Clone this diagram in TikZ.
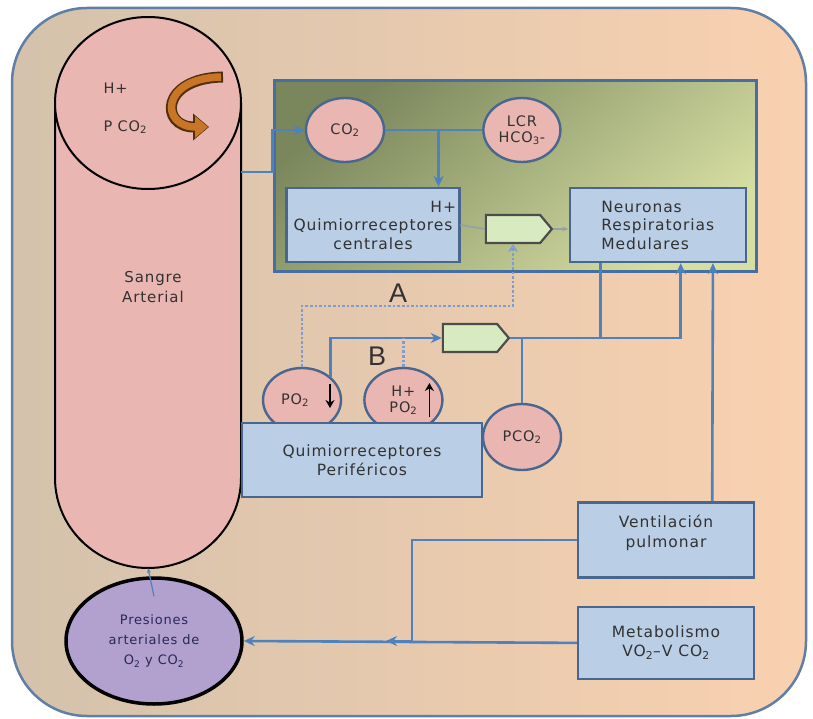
\documentclass[tikz,border=0pt]{standalone}
\usepackage{fontspec}
\setmainfont[LetterSpace=6]{DejaVu Sans}
\newfontfamily\letrasAB{Liberation Sans}
\usetikzlibrary{arrows.meta, positioning, calc, shapes.geometric, shapes.symbols}
\definecolor{fondoizq}{RGB}{212,194,172}
\definecolor{fondoder}{RGB}{249,209,176}
\definecolor{marco}{RGB}{96,126,166}
\definecolor{rosa}{RGB}{233,182,178}
\definecolor{bordecaja}{RGB}{72,102,142}
\definecolor{azulcaja}{RGB}{186,206,230}
\definecolor{azulflecha}{RGB}{79,129,189}
\definecolor{azulpunto}{RGB}{128,156,204}
\definecolor{oliva}{RGB}{122,134,92}
\definecolor{verdeclaro}{RGB}{214,222,162}
\definecolor{verdepunta}{RGB}{216,234,192}
\definecolor{marcoverde}{RGB}{70,110,160}
\definecolor{lila}{RGB}{178,160,206}
\definecolor{ocre}{RGB}{200,118,38}
\definecolor{texto}{RGB}{50,50,50}
\definecolor{gris}{RGB}{150,160,172}

\tikzset{
  caja/.style={draw=bordecaja, line width=2.4pt, fill=azulcaja, align=center, text=texto, font=\fontsize{15.5}{18.5}\selectfont},
  burbuja/.style={ellipse, draw=bordecaja, line width=2.4pt, fill=rosa, inner sep=0pt, align=center, text=texto, font=\fontsize{14.5}{16}\selectfont},
  punta/.style={signal, signal to=east, signal pointer angle=100, draw=black!70, line width=2.2pt, fill=verdepunta, minimum width=66pt, minimum height=28pt},
  linea/.style={draw=azulflecha, line width=2.6pt},
  flecha/.style={linea, -{Stealth[length=11pt,width=10pt]}},
  punteada/.style={draw=azulpunto, line width=2.6pt, dotted},
  letra/.style={font=\letrasAB\fontsize{27}{27}\selectfont, text=texto}
}

\begin{document}
\begin{tikzpicture}[x=1pt, y=-1pt]
\useasboundingbox (0,0) rectangle (813,719);
\draw[draw=marco, line width=2.5pt, rounded corners=75pt, left color=fondoizq, right color=fondoder] (12,8) rectangle (806,716);

\draw[black, line width=2pt, fill=rosa] (55,103) -- (55,478) arc[start angle=180, end angle=360, x radius=93pt, y radius=90pt] -- (241,103);
\draw[black, line width=2pt, fill=rosa] (148,103) ellipse [x radius=93pt, y radius=86pt];
\node[align=center, text=texto, font=\fontsize{15}{20}\selectfont] (sangre) at (153,287) {Sangre\\Arterial};
\node[anchor=west, text=texto, font=\fontsize{14.5}{15}\selectfont] (hsangre) at (100,88) {H+};
\node[anchor=west, text=texto, font=\fontsize{14.5}{15}\selectfont] (psangre) at (100,127) {P CO\textsubscript{2}};
\draw[line width=11pt, draw=black!60!ocre, -{Triangle[length=16pt,width=26pt]}] (223,77) .. controls (160,78) and (160,127) .. (209,127);
\draw[line width=7.5pt, draw=ocre, -{Triangle[length=13pt,width=21pt]}] (221,77) .. controls (160,78) and (160,127) .. (208,127);

\node[draw=marcoverde, line width=3pt, top color=oliva, bottom color=verdeclaro, shading angle=40, minimum width=482pt, minimum height=190pt] (verde) at (515,176) {};
\node[burbuja, minimum width=78pt, minimum height=64pt] (co2) at (345,130) {CO\textsubscript{2}};
\node[burbuja, minimum width=77pt, minimum height=64pt, right=97pt of co2] (lcr) {LCR\\HCO\textsubscript{3}-};
\node[caja, text width=166pt, minimum height=74pt] (qc) at (373,225) {\hfill H+\\Quimiorreceptores\\centrales};
\node[caja, align=left, minimum width=176pt, minimum height=74pt, right=108pt of qc] (neu) {Neuronas\\Respiratorias\\Medulares};
\node[punta] (pc) at (513,229) {};

\node[burbuja, minimum width=78pt, minimum height=64pt] (po2) at (302,400) {PO\textsubscript{2}\hspace{14pt}};
\node[burbuja, minimum width=78pt, minimum height=64pt, right=21pt of po2] (hpo2) {H+\\PO\textsubscript{2}};
\node[caja, minimum width=240pt, minimum height=74pt] (qp) at (362,460) {Quimiorreceptores\\Periféricos};
\node[burbuja, minimum width=78pt, minimum height=66pt] (pco2) at (522,437) {PCO\textsubscript{2}};
\node[punta] (pb) at (470,338) {};
\node[letra] (etiqA) at (398,293) {A};
\node[letra] (etiqB) at (377,356) {B};

\node[caja, minimum width=176pt, minimum height=75pt, label={[align=center, anchor=north, yshift=-10pt, text=texto, font=\fontsize{15.5}{20}\selectfont]north:Ventilación\\pulmonar}] (vent) at (666,540) {};
\node[caja, minimum width=176pt, minimum height=72pt, below=27pt of vent] (met) {Metabolismo\\VO\textsubscript{2}--V CO\textsubscript{2}};
\node[ellipse, draw=black, line width=3.5pt, fill=lila, minimum width=176pt, minimum height=126pt, align=center, text=texto!80!blue, font=\fontsize{13}{20}\selectfont] (pres) at (154,641) {Presiones\\arteriales de\\O\textsubscript{2} y CO\textsubscript{2}};

\coordinate (salida) at (241,172);
\coordinate (bajada) at ($(co2.east)!0.55!(lcr.west)$);
\coordinate (cruce) at (412,641);
\coordinate (fondo) at (148,568);
\draw[flecha] (salida) -- (salida -| verde.west) |- (co2.west);
\draw[linea] (co2) -- (lcr);
\draw[flecha] (bajada) -- (bajada |- qc.north);
\draw[gris, line width=1.6pt] (qc.east) -- (pc.west);
\draw[gris, line width=1.6pt, -{Stealth[length=6pt]}] (pc.east) -- (neu.west |- pc.east);
\draw[punteada, -{Stealth[length=8pt,width=10pt,open]}] (po2.north) -- ++(0,-61) -| (pc.south);
\draw[flecha] (po2.north east) |- (pb.west);
\draw[punteada] (hpo2.north) -- (hpo2.north |- pb.west);
\draw[flecha] (pb.east) -| ($(neu.south)+(23,0)$);
\draw[linea] (pco2.north) -- (pco2.north |- pb.east);
\draw[linea] ($(neu.south west)+(32,0)$) |- (pb.east);
\draw[flecha] ($(vent.north east)+(-43,0)$) -- ($(neu.south east)+(-34,0)$);
\draw[linea] (vent.west) -| (cruce);
\draw[flecha] (cruce) -- ++(-26,0);
\draw[flecha] (met.west) -- (pres.east);
\draw[azulflecha, line width=1.2pt, -{Stealth[length=5pt]}] ($(pres.north)+(0,20)$) -- (fondo);
\draw[black, line width=1.8pt, -{Stealth[length=8pt,width=9pt]}] ($(po2.center)+(28,-16)$) -- ++(0,24);
\draw[black, line width=1.8pt, -{Stealth[length=8pt,width=9pt]}] ($(hpo2.center)+(26,17)$) -- ++(0,-34);
\end{tikzpicture}
\end{document}
